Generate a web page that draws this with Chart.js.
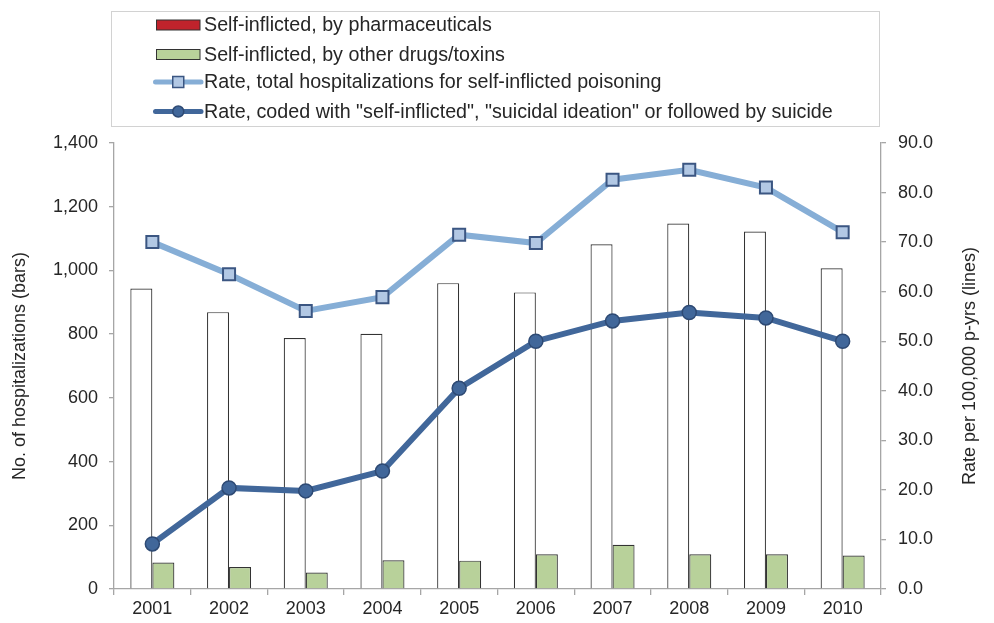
<!DOCTYPE html>
<html>
<head>
<meta charset="utf-8">
<script src="https://cdn.jsdelivr.net/npm/chart.js@4/dist/chart.umd.min.js"></script>
<style>
html,body{margin:0;padding:0;background:#fff;}
#wrap{width:994px;height:623px;position:relative;}
</style>
</head>
<body>
<div id="wrap"><canvas id="c" width="994" height="623"></canvas></div>
<script>
// ---- data ----
const years = ['2001','2002','2003','2004','2005','2006','2007','2008','2009','2010'];
const pharmaceuticals = [943, 869, 788, 801, 960, 931, 1082, 1147, 1122, 1007];
const otherDrugs = [83, 69, 52, 90, 89, 109, 139, 109, 109, 105];
const rateTotal = [70.0, 63.5, 56.1, 58.9, 71.5, 69.8, 82.6, 84.6, 81.0, 72.0];
const rateCoded = [9.1, 20.4, 19.8, 23.8, 40.5, 50.0, 54.1, 55.8, 54.7, 50.0];
const leftTicks = [0, 200, 400, 600, 800, 1000, 1200, 1400];
const rightTicks = [0, 10, 20, 30, 40, 50, 60, 70, 80, 90];
const legendLabels = [
  'Self-inflicted, by pharmaceuticals',
  'Self-inflicted, by other drugs/toxins',
  'Rate, total hospitalizations for self-inflicted poisoning',
  'Rate, coded with "self-inflicted", "suicidal ideation" or followed by suicide'
];
const leftTitle = 'No. of hospitalizations (bars)';
const rightTitle = 'Rate per 100,000 p-yrs (lines)';

// ---- styles ----
const FONT = '"Liberation Sans", Arial, Helvetica, sans-serif';
const TEXT = '#262626';
const AXIS = '#a6a6a6';
const C_BAR_BORDER = '#333333';
const C_GREEN = '#b8d19a';
const C_RED_LEGEND = '#c0232c';
const C_LIGHT = '#86aed6';
const C_SQ_FILL = '#b2c8e4';
const C_SQ_BORDER = '#3b5682';
const C_DARK = '#41679a';
const C_DOT_BORDER = '#2e4a74';

const legendPlugin = {
  id: 'boxLegend',
  afterDraw(chart) {
    const ctx = chart.ctx;
    ctx.save();
    // right axis title, reading bottom-to-top
    const ca = chart.chartArea;
    ctx.save();
    ctx.translate(970, (ca.top + ca.bottom) / 2);
    ctx.rotate(-Math.PI / 2);
    ctx.font = '18px ' + FONT;
    ctx.fillStyle = TEXT;
    ctx.textAlign = 'center';
    ctx.textBaseline = 'middle';
    ctx.fillText(rightTitle, 0, 0);
    ctx.restore();

    ctx.strokeStyle = '#d2d2d2';
    ctx.lineWidth = 1;
    ctx.strokeRect(111.5, 11.5, 768, 115);
    const rows = [25, 54.5, 82, 111.5];
    const x0 = 156.5, x1 = 200, tx = 204;
    ctx.font = '19.7px ' + FONT;
    const longW = ctx.measureText(legendLabels[3]).width;
    const k = Math.min(1, 629 / longW);
    legendLabels.forEach((t, i) => {
      const y = rows[i];
      if (i < 2) {
        ctx.fillStyle = i === 0 ? C_RED_LEGEND : C_GREEN;
        ctx.fillRect(x0, y - 5, x1 - x0, 10);
        ctx.strokeStyle = C_BAR_BORDER;
        ctx.lineWidth = 1;
        ctx.strokeRect(x0, y - 5, x1 - x0, 10);
      } else {
        const ds = chart.data.datasets[i];
        ctx.strokeStyle = ds.borderColor;
        ctx.lineWidth = 5;
        ctx.lineCap = 'round';
        ctx.beginPath();
        ctx.moveTo(x0 - 1, y);
        ctx.lineTo(x1 + 1, y);
        ctx.stroke();
        const mx = (x0 + x1) / 2;
        ctx.fillStyle = ds.pointBackgroundColor;
        ctx.strokeStyle = ds.pointBorderColor;
        ctx.lineWidth = 1.5;
        if (i === 2) {
          ctx.fillRect(mx - 5.5, y - 5.5, 11, 11);
          ctx.strokeRect(mx - 5.5, y - 5.5, 11, 11);
        } else {
          ctx.beginPath();
          ctx.arc(mx, y, 5.5, 0, Math.PI * 2);
          ctx.fill();
          ctx.stroke();
        }
      }
      ctx.fillStyle = TEXT;
      ctx.textBaseline = 'middle';
      ctx.textAlign = 'left';
      ctx.fillText(t, tx, y + 1, ctx.measureText(t).width * k);
    });
    ctx.restore();
  }
};

const ctx = document.getElementById('c').getContext('2d');
new Chart(ctx, {
  type: 'bar',
  data: {
    labels: years,
    datasets: [
      {
        type: 'bar', label: legendLabels[0], data: pharmaceuticals, yAxisID: 'y',
        backgroundColor: '#ffffff', borderColor: C_BAR_BORDER, borderWidth: 1.2,
        categoryPercentage: 0.574, barPercentage: 1.0, order: 2
      },
      {
        type: 'bar', label: legendLabels[1], data: otherDrugs, yAxisID: 'y',
        backgroundColor: C_GREEN, borderColor: C_BAR_BORDER, borderWidth: 1.2,
        categoryPercentage: 0.574, barPercentage: 1.0, order: 2
      },
      {
        type: 'line', label: legendLabels[2], data: rateTotal, yAxisID: 'y1',
        borderColor: C_LIGHT, borderWidth: 6, tension: 0,
        pointStyle: 'rect', pointRadius: 8.5, pointBorderWidth: 2,
        pointBackgroundColor: C_SQ_FILL, pointBorderColor: C_SQ_BORDER, order: 1
      },
      {
        type: 'line', label: legendLabels[3], data: rateCoded, yAxisID: 'y1',
        borderColor: C_DARK, borderWidth: 6, tension: 0,
        pointStyle: 'circle', pointRadius: 7, pointBorderWidth: 1.5,
        pointBackgroundColor: C_DARK, pointBorderColor: C_DOT_BORDER, order: 0
      }
    ]
  },
  options: {
    responsive: false,
    devicePixelRatio: 1,
    animation: false,
    layout: { padding: { top: 143, left: 0, right: 0, bottom: 0 } },
    plugins: { legend: { display: false }, tooltip: { enabled: false } },
    scales: {
      x: {
        offset: true,
        afterFit(s) { s.height = 34; },
        grid: { display: true, drawOnChartArea: false, drawTicks: true, tickLength: 6, offset: true, color: AXIS, lineWidth: 1.3 },
        border: { display: true, color: AXIS, width: 1.3 },
        ticks: { color: TEXT, font: { family: FONT, size: 18 }, padding: 3, maxRotation: 0 }
      },
      y: {
        position: 'left',
        min: 0, max: 1400,
        afterFit(s) { s.width = 114; },
        afterBuildTicks(s) { s.ticks = leftTicks.map(v => ({ value: v })); },
        grid: { display: true, drawOnChartArea: false, drawTicks: true, tickLength: 5, color: AXIS, lineWidth: 1.3 },
        border: { display: true, color: AXIS, width: 1.3 },
        ticks: { color: TEXT, font: { family: FONT, size: 18 }, padding: 11,
          callback: v => v.toLocaleString('en-US') },
        title: { display: true, text: leftTitle, color: TEXT, font: { family: FONT, size: 18 }, padding: { top: 9, bottom: 0 } }
      },
      y1: {
        position: 'right',
        min: 0, max: 90,
        afterFit(s) { s.width = 113; },
        afterBuildTicks(s) { s.ticks = rightTicks.map(v => ({ value: v })); },
        grid: { display: true, drawOnChartArea: false, drawTicks: true, tickLength: 5, color: AXIS, lineWidth: 1.3 },
        border: { display: true, color: AXIS, width: 1.3 },
        ticks: { color: TEXT, font: { family: FONT, size: 18 }, padding: 12,
          callback: v => Number(v).toFixed(1) },
        title: { display: false }
      }
    }
  },
  plugins: [legendPlugin]
});
</script>
</body>
</html>
